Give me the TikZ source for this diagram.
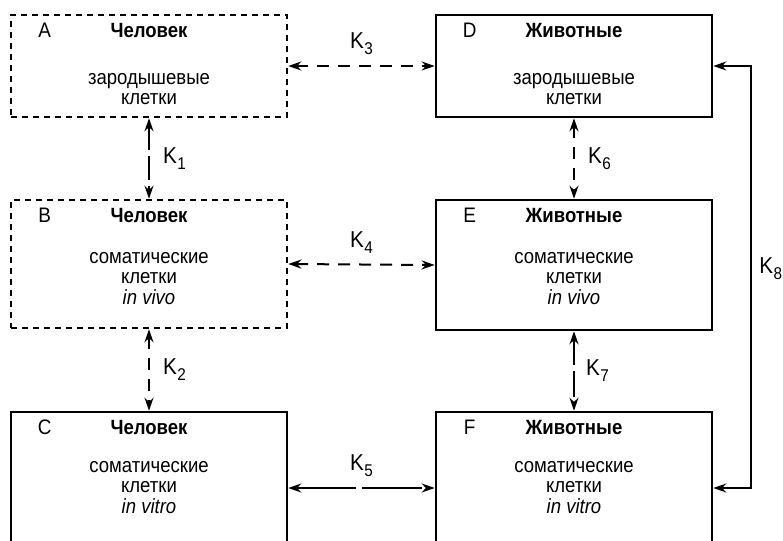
\documentclass[tikz,border=0pt]{standalone}
\usepackage{fontspec}
\setmainfont{Liberation Sans}[FakeStretch=0.9]
\usetikzlibrary{arrows.meta,calc}

\tikzset{
  box/.style={draw, line width=1.3pt, minimum width=138pt, inner sep=0pt},
  dbox/.style={box, line width=1.3pt, dash pattern=on 3pt off 2.5pt},
  hdr/.style={font=\fontsize{10.3}{12}\selectfont\bfseries, inner sep=0pt, anchor=base},
  tag/.style={font=\fontsize{10.5}{12}\selectfont, inner sep=0pt, anchor=base},
  body/.style={align=center, inner sep=0pt, anchor=north, font=\fontsize{10.3}{10.3}\selectfont},
  link/.style={line width=1pt, {Stealth[length=6.5pt,width=4.5pt]}-{Stealth[length=6.5pt,width=4.5pt]}},
  dlink/.style={link, dash pattern=on 6pt off 4.5pt},
  gapped/.style={link, dash pattern=on #1 off 3pt},
  klabel/.style={inner sep=0pt, font=\fontsize{11.5}{13}\selectfont}
}
\newcommand{\klab}[1]{K\kern.3pt\raisebox{-.5ex}{\fontsize{8.5}{9}\selectfont #1}}
% name, style, centre, height, letter, title, body, body offset
\newcommand{\cellbox}[8]{%
  \node[#2, minimum height=#4] (#1) at #3 {};
  \node[tag] (#1-l) at ($(#1.north west)+(35,24)$) {#5};
  \node[hdr] (#1-t) at ($(#1.north)+(0,24)$) {#6};
  \node[body] (#1-b) at ($(#1.north)+(0,#8)$) {#7};
}

\begin{document}
\begin{tikzpicture}[x=0.5pt,y=-0.5pt]
\clip (0,0) rectangle (783,541);

% human
\cellbox{A}{dbox}{(149,66)}{51pt}{A}{Человек}{зародышевые\\клетки}{59}
\cellbox{B}{dbox}{(149,264)}{64pt}{B}{Человек}{соматические\\клетки\\\textit{in vivo}}{53}
\cellbox{C}{box}{(149,488)}{76pt}{C}{Человек}{соматические\\клетки\\\textit{in vitro}}{50}

% animals
\cellbox{D}{box}{(574,66)}{51pt}{D}{Животные}{зародышевые\\клетки}{59}
\cellbox{E}{box}{(574,265)}{65pt}{E}{Животные}{соматические\\клетки\\\textit{in vivo}}{53}
\cellbox{F}{box}{(574,488)}{76pt}{F}{Животные}{соматические\\клетки\\\textit{in vitro}}{50}

% links
\draw[gapped=12pt] (A.south) -- node[klabel, right=6.5pt] {\klab{1}} (B.north);
\draw[dlink] (B.south) -- node[klabel, right=6.5pt] {\klab{2}} (C.north);
\draw[dlink] (A.east) -- node[klabel, above=5pt] {\klab{3}} (D.west);
\draw[dlink] (B.east) -- node[klabel, above=5pt] {\klab{4}} (E.west);
\draw[gapped=30pt] (C.east) -- node[klabel, above=5pt] {\klab{5}} (F.west);
\draw[dlink] (D.south) -- node[klabel, right=6.5pt] {\klab{6}} (E.north);
\draw[gapped=13pt] (E.south) -- node[klabel, right=5.5pt] {\klab{7}} (F.north);
\draw[link] (D.east) -- ++(38,0) |- node[klabel, pos=0.24, right=3.5pt] {\klab{8}} (F.east);
\end{tikzpicture}
\end{document}
